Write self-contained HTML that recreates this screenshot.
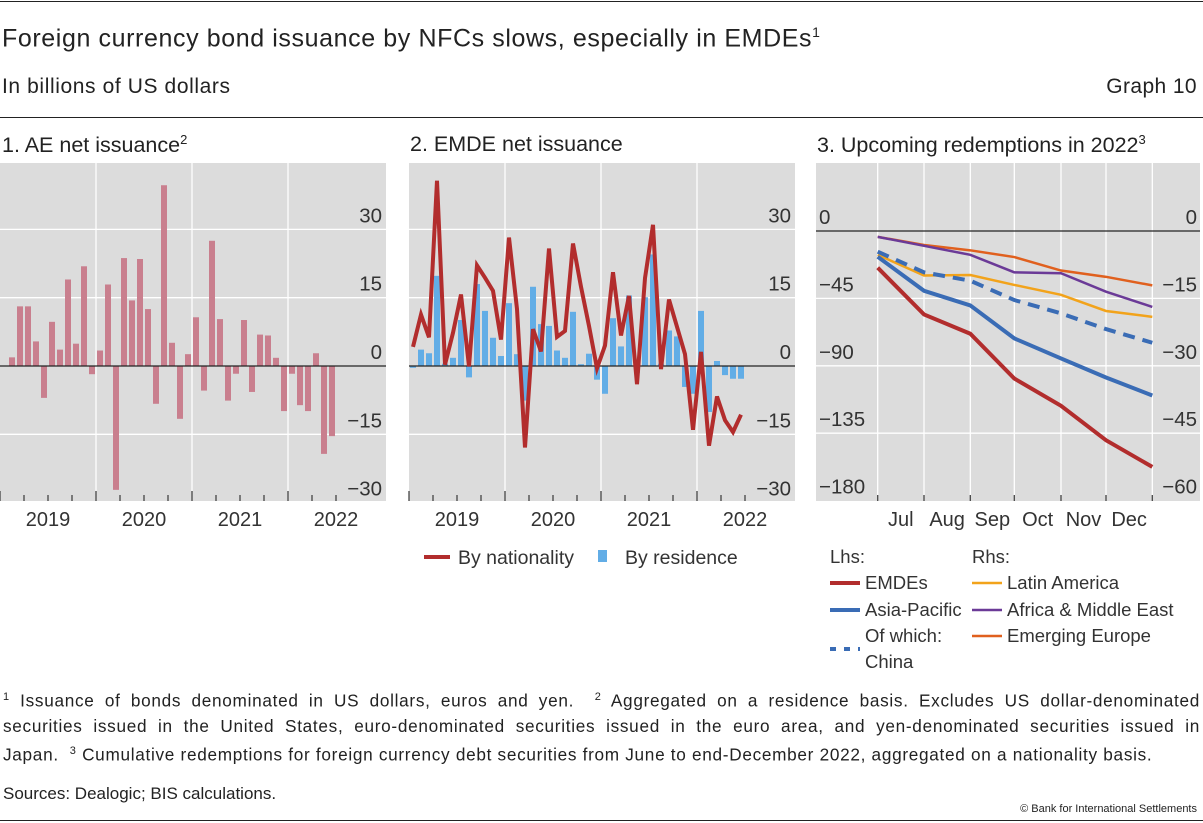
<!DOCTYPE html>
<html><head><meta charset="utf-8"><style>
body{margin:0;width:1203px;height:823px;background:#fff;font-family:"Liberation Sans",sans-serif;color:#222;overflow:hidden;position:relative}
.t{position:absolute;white-space:nowrap}
svg{position:absolute;left:0;top:0}
.fn{position:absolute;left:3px;width:1197px;font-size:17.2px;line-height:25px;letter-spacing:0.7px}
.fn span{display:block;white-space:nowrap;text-align:justify;text-align-last:justify}
.fn span.last{text-align-last:left}
</style></head><body>
<div class="t" style="left:0;top:1px;width:1203px;height:1px;background:#222"></div>
<div class="t" style="left:2px;top:24px;font-size:25px;letter-spacing:0.6px">Foreign currency bond issuance by NFCs slows, especially in EMDEs<sup style="font-size:14px">1</sup></div>
<div class="t" style="left:2px;top:75px;font-size:21px;letter-spacing:0.6px">In billions of US dollars</div>
<div class="t" style="right:6px;top:75px;font-size:21px;letter-spacing:0.4px">Graph 10</div>
<div class="t" style="left:0;top:117px;width:1203px;height:1px;background:#222"></div>
<div class="t" style="left:2px;top:132px;font-size:21.5px">1. AE net issuance<sup style="font-size:13px">2</sup></div>
<div class="t" style="left:410px;top:132px;font-size:21.5px">2. EMDE net issuance</div>
<div class="t" style="left:817px;top:132px;font-size:21.5px">3. Upcoming redemptions in 2022<sup style="font-size:13px">3</sup></div>
<svg id="ch" width="1203" height="823"></svg>
<div class="fn" style="top:685px">
<span><sup style="font-size:11px">1</sup> Issuance of bonds denominated in US dollars, euros and yen. &nbsp;<sup style="font-size:11px">2</sup> Aggregated on a residence basis. Excludes US dollar-denominated</span>
<span>securities issued in the United States, euro-denominated securities issued in the euro area, and yen-denominated securities issued in</span>
<span class="last">Japan. &nbsp;<sup style="font-size:11px">3</sup> Cumulative redemptions for foreign currency debt securities from June to end-December 2022, aggregated on a nationality basis.</span>
</div>
<div class="t" style="left:3px;top:784px;font-size:17px">Sources: Dealogic; BIS calculations.</div>
<div class="t" style="right:6px;top:803px;font-size:11px">© Bank for International Settlements</div>
<div class="t" style="left:0;top:820px;width:1203px;height:1px;background:#222"></div>
<script>
const aeValues=[1.9,13.1,13.1,5.4,-7.0,9.7,3.6,19.0,4.9,21.9,-1.8,3.4,17.9,-27.2,23.7,14.4,23.5,12.5,-8.3,39.7,5.1,-11.6,2.6,10.7,-5.4,27.5,10.3,-7.6,-1.7,10.1,-5.7,6.9,6.7,1.8,-9.9,-1.7,-8.6,-9.9,2.8,-19.3,-15.4];
const aeStartMonth=1;
const emdeResidence=[-0.4,3.6,2.8,19.8,0.5,1.8,10.1,-2.5,18,12.1,6.2,2.2,13.8,2.6,-7.6,17.4,9.2,8.8,3.4,1.8,11.9,0.4,2.7,-3.0,-6.1,10.5,4.3,15.5,-1.5,15.1,24.5,0.5,7.8,6.5,-4.6,-6.1,12.1,-10.1,1.1,-2.0,-2.8,-2.8];
const emdeNationality=[4.2,11.3,6.3,40.7,0.3,7.3,15.7,-0.1,22.1,19.4,16.5,5.8,28.2,12.5,-17.9,8.1,3.2,25.8,6.4,7.7,26.9,17.4,8.8,-0.5,4.5,20.6,6.7,15.4,-4.0,19.3,31.0,-0.7,14.6,8.6,2.6,-14.0,3.1,-17.5,-6.7,-11.9,-14.5,-10.7];
const yearLabels=["2019","2020","2021","2022"];
const barTicks=[30,15,0,-15,-30];
const months=["Jul","Aug","Sep","Oct","Nov","Dec"];
const emdes=[-24.5,-55.7,-68.6,-98.5,-116.7,-139.7,-157.5];
const asiaPacific=[-17.2,-39.9,-49.7,-71.7,-85.1,-97.8,-109.8];
const china=[-13.8,-27.6,-33.2,-46.1,-55.0,-65.5,-74.6];
const latAm=[-5.3,-9.9,-9.8,-12.0,-14.2,-17.8,-19.1];
const africaME=[-1.3,-3.3,-5.3,-9.2,-9.4,-13.5,-16.9];
const emEurope=[-1.3,-3.1,-4.3,-5.8,-8.8,-10.2,-12.1];
const lhsTicks=[0,-45,-90,-135,-180];
const rhsTicks=[0,-15,-30,-45,-60];

const svg=document.getElementById('ch');const NS='http://www.w3.org/2000/svg';
function mk(t,a,parent){const e=document.createElementNS(NS,t);for(const k in a)e.setAttribute(k,a[k]);(parent||svg).appendChild(e);return e;}
const TOP=163,BOT=501,Y0=366,PX=68.3/15;
const yB=v=>Y0-v*PX;
function txt(x,y,s,anchor,size,name){const e=mk('text',{x:x,y:y,'font-size':size||20,fill:'#333','text-anchor':anchor||'start','font-family':'Liberation Sans, sans-serif'});e.textContent=s;

return e;}

function barPanel(x0,x1,n){
  const bg=mk('rect',{x:x0,y:TOP,width:x1-x0,height:BOT-TOP,fill:'#dcdcdc'});
  
  
  barTicks.forEach(v=>{if(v!==0&&v!==-30){const l=mk('line',{x1:x0,x2:x1,y1:yB(v),y2:yB(v),stroke:'#fff','stroke-width':1.3});}
    txt(x1-4,yB(v)-7,v<0?'\u2212'+(-v):String(v),'end',20.5,'y-tick-label');});
  for(let y=1;y<4;y++){const l=mk('line',{x1:x0+y*96,x2:x0+y*96,y1:TOP,y2:BOT,stroke:'#fff','stroke-width':1.3});}
  for(let m=0;m<=42;m+=3){const major=m%12===0;const t=mk('line',{x1:x0+m*8,x2:x0+m*8,y1:BOT-(major?10:6),y2:BOT,stroke:'#444','stroke-width':1.3});}
  yearLabels.forEach((s,i)=>txt(x0+48+i*96,526,s,'middle',20,'x-year-label'));
}
const xM=(x0,m)=>x0+(m+0.5)*8;
const P1=0;barPanel(P1,386,1);
aeValues.forEach((v,i)=>{const r=mk('rect',{x:xM(P1,i+aeStartMonth)-3,y:Math.min(yB(v),Y0),width:6,height:Math.abs(yB(v)-Y0),fill:'#c97f8e'});
  });
let z=mk('line',{x1:P1,x2:386,y1:Y0,y2:Y0,stroke:'#222','stroke-width':1.3});
const P2=409;barPanel(P2,795,2);
emdeResidence.forEach((v,i)=>{const r=mk('rect',{x:xM(P2,i)-3,y:Math.min(yB(v),Y0),width:6,height:Math.abs(yB(v)-Y0),fill:'#62ade6'});
  });
z=mk('line',{x1:P2,x2:795,y1:Y0,y2:Y0,stroke:'#222','stroke-width':1.3});
const nl=mk('polyline',{points:emdeNationality.map((v,i)=>xM(P2,i)+','+yB(v)).join(' '),fill:'none',stroke:'#b22d2d','stroke-width':4,'stroke-linejoin':'miter'});

mk('line',{x1:424,x2:450,y1:557,y2:557,stroke:'#b22d2d','stroke-width':4});
txt(458,564,'By nationality','start',19.5,'legend-nationality');
mk('rect',{x:598,y:550,width:9,height:12,fill:'#62ade6'});
txt(625,564,'By residence','start',19.5,'legend-residence');
const X3=[877.7,924,970.3,1014.3,1061,1106,1152.3];
const P3L=816,P3R=1200;
const yLhs=v=>231-v*67.4/45;const yRhs=v=>231-v*67.4/15;
let b3=mk('rect',{x:P3L,y:TOP,width:P3R-P3L,height:BOT-TOP,fill:'#dcdcdc'});

lhsTicks.forEach((v,i)=>{if(v!==0&&v!==-180){const l=mk('line',{x1:P3L,x2:P3R,y1:yLhs(v),y2:yLhs(v),stroke:'#fff','stroke-width':1.3});}
  txt(P3L+3,yLhs(v)-7,v<0?'\u2212'+(-v):String(v),'start',20.5,'lhs-tick-label');
  const r=rhsTicks[i];txt(P3R-3,yRhs(r)-7,r<0?'\u2212'+(-r):String(r),'end',20.5,'rhs-tick-label');});
X3.forEach(x=>{const l=mk('line',{x1:x,x2:x,y1:TOP,y2:BOT,stroke:'#fff','stroke-width':1.3});
  const t=mk('line',{x1:x,x2:x,y1:BOT-6,y2:BOT,stroke:'#444','stroke-width':1.3});});
months.forEach((s,i)=>txt((X3[i]+X3[i+1])/2,526,s,'middle',20,'x-month-label'));
z=mk('line',{x1:P3L,x2:P3R,y1:231,y2:231,stroke:'#222','stroke-width':1.3});
function ln(arr,f,color,w,dash,name){const p=mk('polyline',{points:arr.map((v,i)=>X3[i]+','+f(v)).join(' '),fill:'none',stroke:color,'stroke-width':w});if(dash)p.setAttribute('stroke-dasharray',dash);
  }
ln(emEurope,yRhs,'#e0601e',2.5,null,'emerging-europe-line');
ln(africaME,yRhs,'#6b3a97',2.5,null,'africa-middle-east-line');
ln(latAm,yRhs,'#f2a31b',2.5,null,'latin-america-line');
ln(china,yLhs,'#3a6cb5',4,'12,8','china-line');
ln(asiaPacific,yLhs,'#3a6cb5',4,null,'asia-pacific-line');
ln(emdes,yLhs,'#b22d2d',4,null,'emdes-line');
txt(830,563,'Lhs:','start',18.5,'legend-lhs-heading');txt(972,563,'Rhs:','start',18.5,'legend-rhs-heading');
const leg=[[830,583,'#b22d2d',4,null,'EMDEs'],[830,610,'#3a6cb5',4,null,'Asia-Pacific'],[830,649,'#3a6cb5',4,'6,8','Of which:'],[972,583,'#f2a31b',2.5,null,'Latin America'],[972,610,'#6b3a97',2.5,null,'Africa & Middle East'],[972,636,'#e0601e',2.5,null,'Emerging Europe']];
leg.forEach(l=>{const s=mk('line',{x1:l[0],x2:l[0]+30,y1:l[1],y2:l[1],stroke:l[2],'stroke-width':l[3]});if(l[4])s.setAttribute('stroke-dasharray',l[4]);
  
  txt(l[0]+35,l[1]+(l[5]==='Of which:'?-7:6),l[5],'start',18.5,'legend-entry');});
txt(865,668,'China','start',18.5,'legend-entry');
</script>
</body></html>
